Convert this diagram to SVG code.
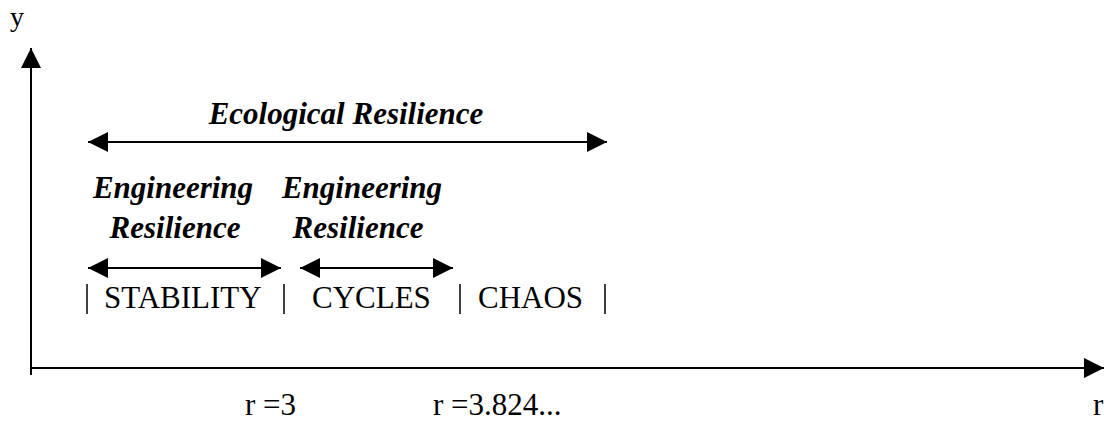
<svg xmlns="http://www.w3.org/2000/svg" width="1104" height="421" viewBox="0 0 1104 421">
<style>
.ax{stroke:#000;stroke-width:2;fill:none}
.ar{stroke:#000;stroke-width:2;fill:none}
.bar{stroke:#000;stroke-width:1.5}
.t{font-family:"Liberation Serif","Times New Roman",serif;fill:#000}
.lab{font-size:31px}
.bi{font-size:31px;font-weight:bold;font-style:italic;text-anchor:middle}
</style>
<defs>
<marker id="ah" markerUnits="userSpaceOnUse" markerWidth="20" markerHeight="20" refX="20" refY="10" orient="auto-start-reverse" viewBox="0 0 20 20">
<path d="M0,0 L20,10 L0,20 Z" fill="#000"/>
</marker>
</defs>
<rect width="1104" height="421" fill="#fff"/>
<g id="connectors">
<line class="ax" x1="31" y1="375" x2="31" y2="48" marker-end="url(#ah)"/>
<line class="ax" x1="30" y1="368" x2="1104" y2="368" marker-end="url(#ah)"/>
<line class="ar" x1="88" y1="142" x2="607" y2="142" marker-start="url(#ah)" marker-end="url(#ah)"/>
<line class="ar" x1="88" y1="268" x2="281" y2="268" marker-start="url(#ah)" marker-end="url(#ah)"/>
<line class="ar" x1="300" y1="268" x2="453" y2="268" marker-start="url(#ah)" marker-end="url(#ah)"/>
</g>
<g id="axis-labels">
<text class="t" x="10" y="26" font-size="28">y</text>
<text class="t" x="1093" y="415" font-size="31">r</text>
<text class="t lab" x="245" y="415">r =3</text>
<text class="t lab" x="433" y="415">r =3.824...</text>
</g>
<g id="ecological">
<text class="t bi" x="346" y="124">Ecological Resilience</text>
</g>
<g id="engineering1">
<text class="t bi" x="173" y="198">Engineering</text>
<text class="t bi" x="175" y="238">Resilience</text>
</g>
<g id="engineering2">
<text class="t bi" x="362" y="198">Engineering</text>
<text class="t bi" x="358" y="238">Resilience</text>
</g>
<g id="regimes">
<line class="bar" x1="87" y1="284" x2="87" y2="314"/>
<line class="bar" x1="284" y1="284" x2="284" y2="314"/>
<line class="bar" x1="460" y1="284" x2="460" y2="314"/>
<line class="bar" x1="605" y1="284" x2="605" y2="314"/>
<text class="t lab" x="104" y="308">STABILITY</text>
<text class="t lab" x="312" y="308">CYCLES</text>
<text class="t lab" x="478" y="308">CHAOS</text>
</g>
</svg>
